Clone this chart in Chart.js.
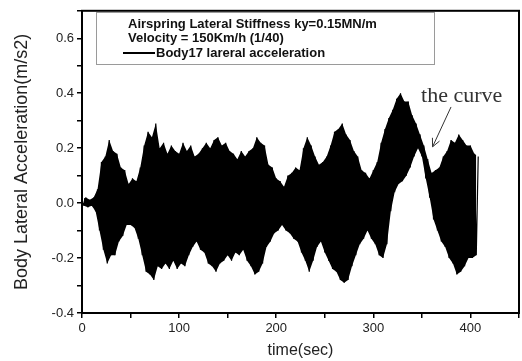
<!DOCTYPE html>
<html>
<head>
<meta charset="utf-8">
<script src="https://cdn.jsdelivr.net/npm/chart.js@4.4.1/dist/chart.umd.min.js"></script>
<style>
  html, body { margin: 0; padding: 0; background: #fff; }
  #wrap { width: 522px; height: 361px; position: relative; }
</style>
</head>
<body>
<div id="wrap"><canvas id="grafico"></canvas></div>
<script>
// signal samples every 2 s: upper swing at t = 0,4,8,... and lower swing at t = 2,6,10,...
const tempoInicio = 0;
const passo = 2;

const picosSuperiores = [
    0.015, 0.02, 0.012, 0.02, 0.05, 0.15, 0.17, 0.23, 0.19, 0.18,
    0.13, 0.12, 0.07, 0.09, 0.08, 0.13, 0.21, 0.26, 0.24, 0.29,
    0.20, 0.22, 0.18, 0.21, 0.19, 0.18, 0.22, 0.19, 0.21, 0.17,
    0.18, 0.20, 0.22, 0.20, 0.23, 0.24, 0.21, 0.22, 0.19, 0.18,
    0.16, 0.19, 0.17, 0.19, 0.20, 0.24, 0.22, 0.21, 0.14, 0.13,
    0.09, 0.08, 0.06, 0.10, 0.11, 0.13, 0.12, 0.20, 0.24, 0.21,
    0.17, 0.14, 0.15, 0.17, 0.21, 0.26, 0.27, 0.29, 0.25, 0.23,
    0.19, 0.17, 0.12, 0.11, 0.09, 0.12, 0.15, 0.22, 0.27, 0.31,
    0.34, 0.38, 0.40, 0.37, 0.37, 0.32, 0.29, 0.25, 0.21, 0.16,
    0.11, 0.12, 0.13, 0.17, 0.19, 0.23, 0.22, 0.25, 0.23, 0.21,
    0.21, 0.18, 0.17
];

const picosInferiores = [
    -0.01, -0.015, -0.01, -0.03, -0.10, -0.17, -0.22, -0.19, -0.19, -0.14,
    -0.12, -0.08, -0.08, -0.09, -0.13, -0.19, -0.25, -0.26, -0.28, -0.23,
    -0.24, -0.22, -0.24, -0.21, -0.24, -0.22, -0.23, -0.19, -0.16, -0.14,
    -0.17, -0.18, -0.22, -0.23, -0.25, -0.22, -0.21, -0.19, -0.21, -0.18,
    -0.19, -0.17, -0.21, -0.23, -0.26, -0.25, -0.22, -0.16, -0.14, -0.11,
    -0.10, -0.08, -0.10, -0.11, -0.13, -0.14, -0.18, -0.21, -0.25, -0.21,
    -0.16, -0.14, -0.18, -0.21, -0.24, -0.25, -0.28, -0.29, -0.28, -0.23,
    -0.19, -0.15, -0.13, -0.10, -0.13, -0.15, -0.19, -0.20, -0.15, -0.03,
    0.04, 0.07, 0.08, 0.10, 0.13, 0.17, 0.20, 0.17, 0.09, 0.02,
    -0.06, -0.10, -0.14, -0.16, -0.20, -0.22, -0.26, -0.25, -0.23, -0.20,
    -0.20, -0.19
];

const ticksX = [0, 100, 200, 300, 400];
const ticksY = [-0.4, -0.2, 0.0, 0.2, 0.4, 0.6];

const cabecalho = [
    'Airspring Lateral Stiffness ky=0.15MN/m',
    'Velocity = 150Km/h (1/40)'
];
const nomeSerie = 'Body17 lareral acceleration';

// zigzag the two swing lists into one series, and keep each list as an envelope too
const pontos = [];
const envSup = [];
const envInf = [];
for (let i = 0; i < picosSuperiores.length; i++) {
    const tSup = tempoInicio + passo * 2 * i;
    pontos.push({ x: tSup, y: picosSuperiores[i] });
    envSup.push({ x: tSup, y: picosSuperiores[i] });
    if (i < picosInferiores.length) {
        const tInf = tempoInicio + passo * (2 * i + 1);
        pontos.push({ x: tInf, y: picosInferiores[i] });
        envInf.push({ x: tInf, y: picosInferiores[i] });
    }
}

const fonteEixo = { family: '"Liberation Sans", Arial, sans-serif', size: 13 };

const moldura = {
    id: 'moldura',
    afterDraw(chart) {
        const { ctx, chartArea: a, scales } = chart;
        ctx.save();
        ctx.strokeStyle = '#000';
        ctx.lineWidth = 2;
        ctx.strokeRect(a.left, a.top, a.right - a.left, a.bottom - a.top);

        // legend box
        ctx.fillStyle = '#fff';
        ctx.fillRect(96.5, 12.5, 338, 52);
        ctx.strokeStyle = '#9a9a9a';
        ctx.lineWidth = 1;
        ctx.strokeRect(96.5, 12.5, 338, 52);
        ctx.fillStyle = '#111';
        ctx.font = 'bold 13px "Liberation Sans", Arial, sans-serif';
        ctx.textBaseline = 'middle';
        ctx.fillText(cabecalho[0], 128, 24);
        ctx.fillText(cabecalho[1], 128, 38);
        ctx.strokeStyle = '#000';
        ctx.lineWidth = 2;
        ctx.beginPath();
        ctx.moveTo(123, 53);
        ctx.lineTo(155, 53);
        ctx.stroke();
        ctx.fillText(nomeSerie, 156, 53);

        // "the curve" note with arrow
        const sx = scales.x, sy = scales.y;
        ctx.fillStyle = '#333';
        ctx.font = '22px "Liberation Serif", "Times New Roman", serif';
        ctx.textAlign = 'center';
        ctx.fillText('the curve', sx.getPixelForValue(391), sy.getPixelForValue(0.39));
        const x0 = sx.getPixelForValue(380), y0 = sy.getPixelForValue(0.35);
        const x1 = sx.getPixelForValue(361), y1 = sy.getPixelForValue(0.205);
        ctx.strokeStyle = '#333';
        ctx.lineWidth = 1;
        ctx.beginPath();
        ctx.moveTo(x0, y0);
        ctx.lineTo(x1, y1);
        const ang = Math.atan2(y1 - y0, x1 - x0);
        ctx.moveTo(x1, y1);
        ctx.lineTo(x1 - 9 * Math.cos(ang - 0.45), y1 - 9 * Math.sin(ang - 0.45));
        ctx.moveTo(x1, y1);
        ctx.lineTo(x1 - 9 * Math.cos(ang + 0.45), y1 - 9 * Math.sin(ang + 0.45));
        ctx.stroke();
        ctx.restore();
    }
};

const config = {
    type: 'line',
    data: {
        datasets: [{
            label: 'envSup',
            data: envSup,
            borderColor: '#000',
            borderWidth: 0,
            pointRadius: 0,
            tension: 0,
            fill: false
        }, {
            label: 'envInf',
            data: envInf,
            borderColor: '#000',
            borderWidth: 0,
            backgroundColor: '#000',
            pointRadius: 0,
            tension: 0,
            fill: '-1'
        }, {
            label: nomeSerie,
            data: pontos,
            borderColor: '#000',
            borderWidth: 1.2,
            borderJoinStyle: 'bevel',
            pointRadius: 0,
            tension: 0,
            fill: false
        }]
    },
    options: {
        responsive: true,
        maintainAspectRatio: false,
        animation: false,
        layout: { padding: { top: 5, right: 2, left: 0, bottom: 0 } },
        plugins: {
            legend: { display: false },
            tooltip: { enabled: false }
        },
        scales: {
            x: {
                type: 'linear',
                min: 0,
                max: 450,
                afterFit(s) { s.height = 48; },
                border: { display: false },
                grid: {
                    drawOnChartArea: false,
                    drawTicks: true,
                    tickLength: 5,
                    color: '#000',
                    lineWidth: 1.5
                },
                ticks: {
                    stepSize: 50,
                    autoSkip: false,
                    maxRotation: 0,
                    padding: 3,
                    color: '#222',
                    font: fonteEixo,
                    callback: v => ticksX.includes(v) ? String(v) : ''
                },
                title: {
                    display: true,
                    text: 'time(sec)',
                    color: '#222',
                    font: { family: '"Liberation Sans", Arial, sans-serif', size: 16 },
                    padding: { top: 0, bottom: 1 }
                }
            },
            y: {
                min: -0.4,
                max: 0.7,
                afterFit(s) { s.width = 82; },
                border: { display: false },
                grid: {
                    drawOnChartArea: false,
                    drawTicks: true,
                    tickLength: 5,
                    color: '#000',
                    lineWidth: 1.5
                },
                ticks: {
                    stepSize: 0.1,
                    autoSkip: false,
                    padding: 3,
                    color: '#222',
                    font: fonteEixo,
                    callback: v => {
                        const r = Math.round(v * 10) / 10;
                        return ticksY.some(t => Math.abs(t - r) < 1e-9) ? r.toFixed(1) : '';
                    }
                },
                title: {
                    display: true,
                    text: 'Body Lateral Acceleration(m/s2)',
                    color: '#222',
                    font: { family: '"Liberation Sans", Arial, sans-serif', size: 18 },
                    padding: { top: 11, bottom: 0 }
                }
            }
        }
    },
    plugins: [moldura]
};

const grafico = new Chart(document.getElementById('grafico'), config);
</script>
</body>
</html>
